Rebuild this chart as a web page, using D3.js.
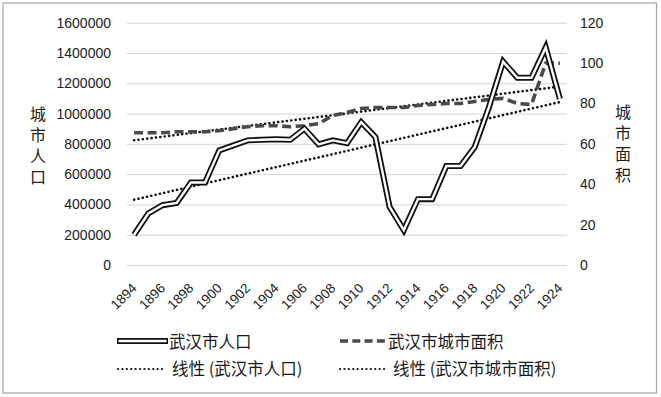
<!DOCTYPE html>
<html>
<head>
<meta charset="utf-8">
<script src="https://cdn.jsdelivr.net/npm/d3@7"></script>
<style>
  html, body { margin: 0; padding: 0; background: #fff; }
  svg { display: block; }
</style>
</head>
<body>
<svg id="chart" width="661" height="397"></svg>
<script>
// ---- data ----
const years = d3.range(1894, 1925);
const population = [200000, 340000, 395000, 410000, 545000, 545000, 757000, 790000, 823000, 827000,
  830000, 827000, 900000, 797000, 823000, 805000, 943000, 845000, 384000, 230000,
  435000, 435000, 654000, 654000, 779000, 1042000, 1343000, 1236000, 1236000, 1437000, 1097000];
const area = [65.5, 65.5, 65.5, 66, 66, 66, 66.5, 67.5, 68.5, 69,
  69, 68.5, 69, 70, 74, 75.5, 77.5, 78, 78, 78,
  79, 79.5, 80, 80, 81, 82, 82.5, 80, 79.5, 100, 100];
const leftTicks = [0, 200000, 400000, 600000, 800000, 1000000, 1200000, 1400000, 1600000];
const rightTicks = [0, 20, 40, 60, 80, 100, 120];
const xTickYears = years.filter(y => y % 2 === 0);
const leftTitle = "城市人口";
const rightTitle = "城市面积";
const legendLabels = ["武汉市人口", "武汉市城市面积", "线性 (武汉市人口)", "线性 (武汉市城市面积)"];

// ---- linear regression (trend lines) ----
function linReg(xs, ys) {
  const mx = d3.mean(xs), my = d3.mean(ys);
  const b = d3.sum(xs, (x, i) => (x - mx) * (ys[i] - my)) / d3.sum(xs, x => (x - mx) ** 2);
  return x => my + b * (x - mx);
}
const popFit = linReg(years, population);
const areaFit = linReg(years, area);

// ---- scales ----
const svg = d3.select("#chart");
const x = d3.scalePoint().domain(years).range([127, 567]).padding(0.5);
const yL = d3.scaleLinear().domain([0, 1600000]).range([265, 22.7]);
const yR = d3.scaleLinear().domain([0, 120]).range([265, 22.7]);

const numFont = "'Liberation Sans', Arial, sans-serif";
const cjkFont = "'Noto Sans CJK SC', sans-serif";

// border
svg.append("rect").attr("x", 3).attr("y", 3).attr("width", 653.5).attr("height", 390)
  .attr("fill", "#fff").attr("stroke", "#a6a6a6").attr("stroke-width", 1.2);

// gridlines
const grid = svg.append("g").attr("transform", "translate(127,0)")
  .call(d3.axisLeft(yL).tickValues(leftTicks).tickSize(-440).tickFormat(""));
grid.select(".domain").remove();
grid.selectAll("line").attr("stroke", "#d4d4d4").attr("stroke-width", 1);

// left axis labels
const gl = svg.append("g").attr("transform", "translate(111,0)")
  .call(d3.axisLeft(yL).tickValues(leftTicks).tickSize(0).tickPadding(0).tickFormat(d3.format("d")));
gl.select(".domain").remove();
gl.selectAll("text").attr("font-family", numFont).attr("font-size", 14).attr("fill", "#222");

// right axis labels
const gr = svg.append("g").attr("transform", "translate(580,0)")
  .call(d3.axisRight(yR).tickValues(rightTicks).tickSize(0).tickPadding(0));
gr.select(".domain").remove();
gr.selectAll("text").attr("font-family", numFont).attr("font-size", 14).attr("fill", "#222");

// x axis labels
const gx = svg.append("g").attr("transform", "translate(0,265)")
  .call(d3.axisBottom(x).tickValues(xTickYears).tickSize(0).tickFormat(d3.format("d")));
gx.select(".domain").remove();
gx.selectAll("text")
  .attr("font-family", numFont).attr("font-size", 13.5).attr("fill", "#222")
  .attr("text-anchor", "end").attr("dy", null).attr("y", 0)
  .attr("transform", "translate(3,24) rotate(-45)");

// axis titles (vertical writing)
function vTitle(txt, cx, top) {
  svg.append("text").attr("x", cx).attr("y", top)
    .attr("font-family", cjkFont).attr("font-size", 16).attr("fill", "#222")
    .style("writing-mode", "vertical-rl").style("letter-spacing", "5px")
    .text(txt);
}
vTitle(leftTitle, 38, 106);
vTitle(rightTitle, 623, 104);

// ---- lines ----
const popLine = d3.line().x((d, i) => x(years[i])).y(d => yL(d));
const areaLine = d3.line().x((d, i) => x(years[i])).y(d => yR(d));

const xs = [years[0], years[years.length - 1]];
// trend lines
svg.append("path").attr("d", d3.line().x(d => x(d)).y(d => yL(popFit(d)))(xs))
  .attr("fill", "none").attr("stroke", "#111").attr("stroke-width", 2.6)
  .attr("stroke-dasharray", "0.1 4.3").attr("stroke-linecap", "round");
svg.append("path").attr("d", d3.line().x(d => x(d)).y(d => yR(areaFit(d)))(xs))
  .attr("fill", "none").attr("stroke", "#111").attr("stroke-width", 2.6)
  .attr("stroke-dasharray", "0.1 4.3").attr("stroke-linecap", "round");

// area dashed
svg.append("path").attr("d", areaLine(area)).attr("fill", "none")
  .attr("stroke", "#4a4a4a").attr("stroke-width", 3.6).attr("stroke-dasharray", "9 4.5")
  .attr("stroke-linejoin", "round");

// population double line
svg.append("path").attr("d", popLine(population)).attr("fill", "none")
  .attr("stroke", "#111").attr("stroke-width", 6).attr("stroke-linejoin", "miter");
svg.append("path").attr("d", popLine(population)).attr("fill", "none")
  .attr("stroke", "#fff").attr("stroke-width", 2.4).attr("stroke-linejoin", "miter");

// ---- legend ----
const lg = svg.append("g");
function legText(tx, ty, s) {
  lg.append("text").attr("x", tx).attr("y", ty).attr("dominant-baseline", "central")
    .attr("font-family", cjkFont).attr("font-size", 16.5).attr("fill", "#1a1a1a").text(s);
}
// item 1: double line
lg.append("line").attr("x1", 117).attr("x2", 168).attr("y1", 341).attr("y2", 341)
  .attr("stroke", "#111").attr("stroke-width", 6);
lg.append("line").attr("x1", 118.5).attr("x2", 166.5).attr("y1", 341).attr("y2", 341)
  .attr("stroke", "#fff").attr("stroke-width", 2.4);
legText(169, 341, legendLabels[0]);
// item 2: dashed
lg.append("line").attr("x1", 340).attr("x2", 388).attr("y1", 341).attr("y2", 341)
  .attr("stroke", "#4a4a4a").attr("stroke-width", 3.6).attr("stroke-dasharray", "8 4.3");
legText(388, 341, legendLabels[1]);
// item 3/4: dotted
[[118, 165, 172, legendLabels[2]], [340, 387, 393, legendLabels[3]]].forEach(([a, b, t, s]) => {
  lg.append("line").attr("x1", a).attr("x2", b).attr("y1", 369).attr("y2", 369)
    .attr("stroke", "#111").attr("stroke-width", 2.2)
    .attr("stroke-dasharray", "0.1 4.3").attr("stroke-linecap", "round");
  legText(t, 368, s);
});
</script>
</body>
</html>
